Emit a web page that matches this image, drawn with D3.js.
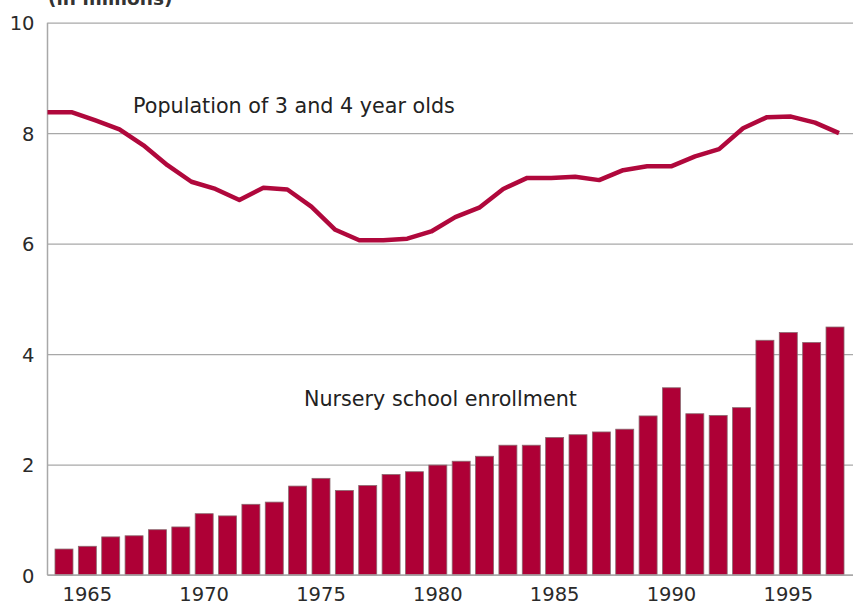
<!DOCTYPE html>
<html>
<head>
<meta charset="utf-8">
<script src="https://cdn.jsdelivr.net/npm/d3@7"></script>
<style>
  html, body { margin: 0; padding: 0; background: #fff; }
  svg { display: block; font-family: "DejaVu Sans", Verdana, sans-serif; }
</style>
</head>
<body>
<svg id="chart" width="853" height="605"></svg>
<script>
// ---- data ----
const years = d3.range(1964, 1998);
const enrollment = [0.47, 0.52, 0.69, 0.71, 0.82, 0.87, 1.11, 1.07, 1.28, 1.32,
                    1.61, 1.75, 1.53, 1.62, 1.82, 1.87, 1.99, 2.06, 2.15, 2.35,
                    2.35, 2.49, 2.54, 2.59, 2.64, 2.88, 3.39, 2.92, 2.89, 3.03,
                    4.25, 4.39, 4.21, 4.49];
const population = [8.38, 8.38, 8.23, 8.07, 7.78, 7.42, 7.12, 6.99, 6.79, 7.01,
                    6.98, 6.67, 6.25, 6.06, 6.06, 6.09, 6.22, 6.48, 6.65, 6.99,
                    7.19, 7.19, 7.21, 7.15, 7.33, 7.40, 7.40, 7.58, 7.71, 8.09,
                    8.29, 8.30, 8.19, 8.00];
const yTicks = [0, 2, 4, 6, 8, 10];
const xTickYears = [1965, 1970, 1975, 1980, 1985, 1990, 1995];
const unitLabel = "(in millions)";
const lineLabel = "Population of 3 and 4 year olds";
const barLabel = "Nursery school enrollment";

// ---- layout ----
const svg = d3.select("#chart");
const plotLeft = 47.5, plotRight = 853, plotBottom = 575, plotTop = 22.7;
const red = "#ae0036";

const y = d3.scaleLinear().domain([0, 10]).range([plotBottom, plotTop]);
const xBand = d3.scaleBand().domain(years).range([52.3, 846.7])
  .paddingInner(0.23).paddingOuter(0.115);
const xLine = d3.scaleLinear().domain([1964, 1997]).range([47.5, 839]);

// gridlines + y tick labels
const yAxis = d3.axisLeft(y).tickValues(yTicks).tickSize(-(plotRight - plotLeft)).tickPadding(13)
  .tickFormat(d3.format("d"));
const gy = svg.append("g").attr("transform", `translate(${plotLeft},0)`).call(yAxis);
gy.select(".domain").remove();
gy.selectAll(".tick line").attr("stroke", "#a8a8a8").attr("stroke-width", 1.2);
gy.selectAll(".tick text").attr("fill", "#2a2a2a").attr("font-size", 19.5)
  .attr("font-family", "DejaVu Sans").attr("dy", "0.36em");

// left axis line
svg.append("line").attr("x1", plotLeft).attr("x2", plotLeft)
  .attr("y1", plotTop).attr("y2", plotBottom)
  .attr("stroke", "#a8a8a8").attr("stroke-width", 1.5);

// bars
svg.append("g").selectAll("rect").data(years).join("rect")
  .attr("x", d => xBand(d))
  .attr("width", xBand.bandwidth())
  .attr("y", (d, i) => y(enrollment[i]))
  .attr("height", (d, i) => y(0) - y(enrollment[i]))
  .attr("fill", red)
  .attr("stroke", "#8a6a70").attr("stroke-width", 0.8);

// bottom axis
const xAxis = d3.axisBottom(xBand).tickValues(xTickYears).tickSize(0).tickPadding(0);
const gx = svg.append("g").attr("transform", `translate(0,${plotBottom})`).call(xAxis);
gx.select(".domain").remove();
gx.selectAll(".tick text").attr("fill", "#2a2a2a").attr("font-size", 19.5)
  .attr("font-family", "DejaVu Sans").attr("y", 26).attr("dy", 0);
svg.append("line").attr("x1", plotLeft).attr("x2", plotRight)
  .attr("y1", plotBottom).attr("y2", plotBottom)
  .attr("stroke", "#a8a8a8").attr("stroke-width", 1.5);

// population line
const line = d3.line().x((d, i) => xLine(years[i])).y(d => y(d));
svg.append("path").datum(population)
  .attr("d", line)
  .attr("fill", "none")
  .attr("stroke", "#b0083c")
  .attr("stroke-width", 4.5)
  .attr("stroke-linejoin", "round");

// labels
svg.append("text").attr("x", 48).attr("y", 5)
  .attr("font-size", 18.5).attr("font-weight", "bold").attr("fill", "#333")
  .text(unitLabel);
svg.append("text").attr("x", 133).attr("y", 113)
  .attr("font-size", 20.7).attr("fill", "#222").text(lineLabel);
svg.append("text").attr("x", 304).attr("y", 406)
  .attr("font-size", 20.7).attr("fill", "#222").text(barLabel);
</script>
</body>
</html>
